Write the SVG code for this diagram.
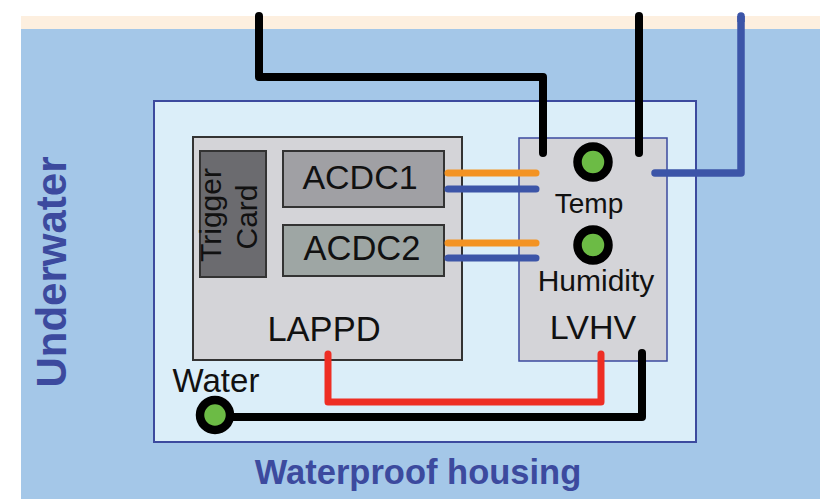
<svg xmlns="http://www.w3.org/2000/svg" width="820" height="499" viewBox="0 0 820 499">
<style>
.t{font-family:"Liberation Sans",Arial,sans-serif;fill:#111;text-anchor:middle}
.b{font-family:"Liberation Sans",Arial,sans-serif;font-weight:bold;fill:#3c4a9e;text-anchor:middle}
.w{fill:none;stroke-linecap:round;stroke-linejoin:round}
.s{fill:#6cbb45;stroke:#000;stroke-width:8.5}
</style>
<rect width="820" height="499" fill="#ffffff"/>
<rect x="21" y="16" width="799" height="14" fill="#fdefdf"/>
<rect x="21" y="29" width="799" height="470" fill="#a4c7e8"/>
<text class="b" font-size="42" transform="translate(66,272) rotate(-90)">Underwater</text>
<g id="housing">
<rect x="154" y="101" width="542" height="341" fill="#dbeef9" stroke="#3c4a9e" stroke-width="2"/>
<text class="b" font-size="34.5" x="418" y="484">Waterproof housing</text>
</g>
<g id="lappd">
<rect x="193" y="137" width="269" height="223" fill="#d4d4d8" stroke="#333" stroke-width="2"/>
<text class="t" font-size="34.5" x="324" y="341">LAPPD</text>
</g>
<g id="trigger">
<rect x="200" y="151" width="66" height="126" fill="#6b6b6f" stroke="#333" stroke-width="2"/>
<text class="t" font-size="30" transform="translate(0,0) rotate(-90)"><tspan x="-215" y="221">Trigger</tspan><tspan x="-217" y="257">Card</tspan></text>
</g>
<g id="acdc1">
<rect x="283" y="151" width="161" height="56" fill="#a0a0a4" stroke="#333" stroke-width="2"/>
<text class="t" font-size="34" x="360" y="189">ACDC1</text>
</g>
<g id="acdc2">
<rect x="283" y="225" width="161" height="51" fill="#9ea6a4" stroke="#333" stroke-width="2"/>
<text class="t" font-size="34.5" x="362" y="260">ACDC2</text>
</g>
<g id="lvhv">
<rect x="519" y="138" width="148" height="223" fill="#d4d4d8" stroke="#3c4a9e" stroke-width="1.5"/>
<text class="t" font-size="28" x="589" y="213">Temp</text>
<text class="t" font-size="30" x="596" y="291">Humidity</text>
<text class="t" font-size="34" x="593" y="339">LVHV</text>
</g>
<g id="connectors">
<path class="w" d="M259 16 V77 H543 V153" stroke="#000" stroke-width="8"/>
<path d="M259 16 V22" stroke="#000" stroke-width="8"/>
<path class="w" d="M639 16 V153" stroke="#000" stroke-width="8"/>
<path d="M639 16 V22" stroke="#000" stroke-width="8"/>
<path class="w" d="M741 16 V173 H655" stroke="#3c55a8" stroke-width="7.5"/>
<path d="M741 16 V22" stroke="#3c55a8" stroke-width="7.5"/>
<path class="w" d="M448 173 H536" stroke="#f39323" stroke-width="7"/>
<path class="w" d="M448 189 H536" stroke="#3c55a8" stroke-width="7"/>
<path class="w" d="M448 243 H536" stroke="#f39323" stroke-width="7"/>
<path class="w" d="M448 258 H536" stroke="#3c55a8" stroke-width="7"/>
<path class="w" d="M328 354 V402 H601 V354" stroke="#ee2e24" stroke-width="7"/>
<path class="w" d="M642 353 V417 H215" stroke="#000" stroke-width="8"/>
</g>
<g id="temp-sensor"><circle class="s" cx="593" cy="162" r="15.5"/></g>
<g id="humidity-sensor"><circle class="s" cx="593" cy="245" r="15.5"/></g>
<g id="water-sensor">
<circle class="s" cx="215" cy="415" r="15"/>
<text class="t" font-size="33" x="216" y="392">Water</text>
</g>
</svg>
